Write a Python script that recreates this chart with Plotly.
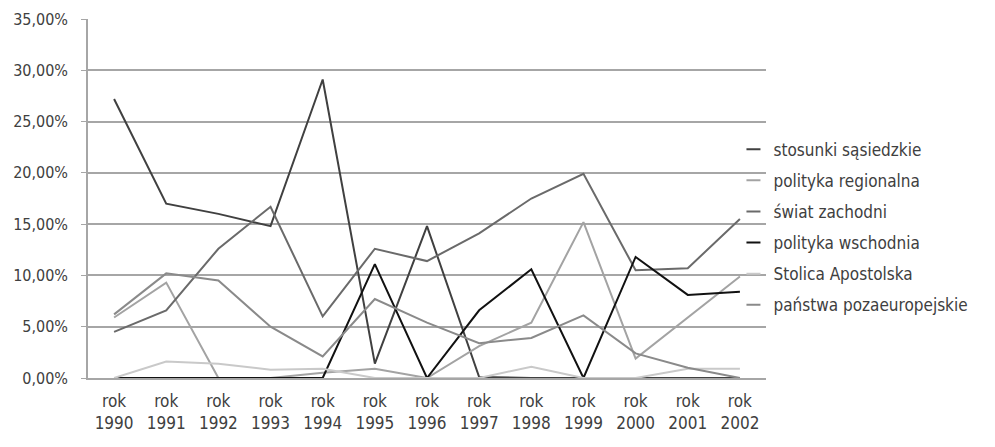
import plotly.graph_objects as go

years = ["rok<br>1990", "rok<br>1991", "rok<br>1992", "rok<br>1993", "rok<br>1994", "rok<br>1995",
         "rok<br>1996", "rok<br>1997", "rok<br>1998", "rok<br>1999", "rok<br>2000", "rok<br>2001", "rok<br>2002"]

stosunki_sasiedzkie = [27.2, 17.0, 16.0, 14.8, 29.1, 1.4, 14.8, 0.1, 0.0, 0.0, 0.0, 0.0, 0.0]
polityka_regionalna = [5.9, 9.3, 0.0, 0.0, 0.5, 0.9, 0.0, 3.1, 5.4, 15.2, 1.9, 5.9, 9.9]
swiat_zachodni = [4.5, 6.6, 12.6, 16.7, 6.0, 12.6, 11.4, 14.1, 17.5, 19.9, 10.5, 10.7, 15.5]
polityka_wschodnia = [0.0, 0.0, 0.0, 0.0, 0.0, 11.1, 0.0, 6.6, 10.6, 0.0, 11.8, 8.1, 8.4]
stolica_apostolska = [0.0, 1.6, 1.4, 0.8, 0.9, 0.0, 0.0, 0.0, 1.1, 0.0, 0.0, 0.9, 0.9]
panstwa_pozaeuropejskie = [6.2, 10.2, 9.5, 5.0, 2.1, 7.7, 5.4, 3.4, 3.9, 6.1, 2.4, 1.0, 0.0]

series = [
    ("stosunki sąsiedzkie", stosunki_sasiedzkie, "#404040"),
    ("polityka regionalna", polityka_regionalna, "#a3a3a3"),
    ("świat zachodni", swiat_zachodni, "#6a6a6a"),
    ("polityka wschodnia", polityka_wschodnia, "#111111"),
    ("Stolica Apostolska", stolica_apostolska, "#c9c9c9"),
    ("państwa pozaeuropejskie", panstwa_pozaeuropejskie, "#8a8a8a"),
]

FONT = "DejaVu Sans Condensed, Liberation Sans Narrow, Roboto, sans-serif"

fig = go.Figure()
for name, vals, col in series:
    fig.add_trace(go.Scatter(x=years, y=vals, mode="lines", name=name,
                             line=dict(color=col, width=2), legendgroup=name,
                             showlegend=False, hoverinfo="x+y+name"))
# legend entries (short dash symbol)
for name, vals, col in series:
    fig.add_trace(go.Scatter(x=[None], y=[None], mode="markers", name=name,
                             legendgroup=name, showlegend=True,
                             marker=dict(symbol="line-ew-open", size=10, color=col,
                                         line=dict(color=col, width=2))))

# page body has an 8px margin, so the figure is sized/offset to compensate
fig.update_layout(
    width=987, height=439,
    margin=dict(l=80, r=229, t=11, b=69),
    paper_bgcolor="white", plot_bgcolor="white",
    font=dict(family=FONT, size=17, color="#404040"),
    separators=", ",
    legend=dict(x=0.952, xanchor="left", y=0.42, yanchor="middle",
                bgcolor="rgba(0,0,0,0)", tracegroupgap=6,
                font=dict(size=17, color="#404040"), itemwidth=30),
    showlegend=True,
)
fig.update_xaxes(type="category", range=[-0.5, 12.5], showgrid=False, showline=True,
                 linecolor="#a6a6a6", linewidth=1.5, ticks="", tickangle=0,
                 tickfont=dict(size=17), zeroline=False, automargin=False,
                 ticklabelstandoff=7)
fig.update_yaxes(range=[0, 35], dtick=5, tickformat=".2f", ticksuffix="%",
                 showgrid=True, gridcolor="#a6a6a6", gridwidth=1.5,
                 showline=True, linecolor="#a6a6a6", linewidth=1.5,
                 ticks="outside", ticklen=5, tickcolor="#a6a6a6",
                 ticklabelstandoff=10, zeroline=False, tickfont=dict(size=16),
                 automargin=False)

fig.write_html("out.html")
